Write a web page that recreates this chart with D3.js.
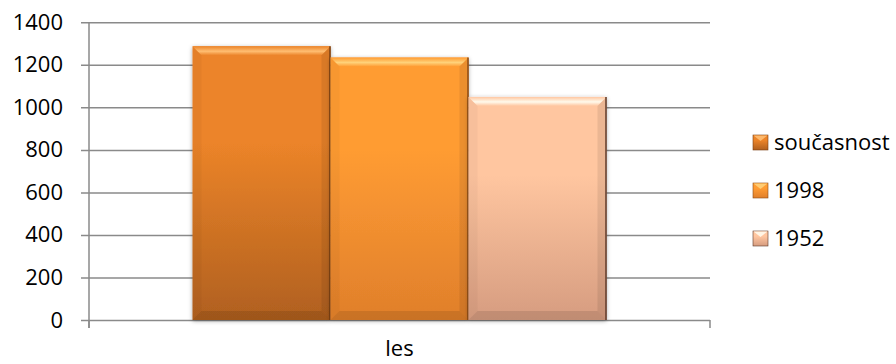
<!DOCTYPE html>
<html>
<head>
<meta charset="utf-8">
<title>les</title>
<script src="https://d3js.org/d3.v7.min.js"></script>
<style>
  body { margin: 0; background: #fff; }
  svg text { font-family: "Open Sans", sans-serif; font-size: 22px; fill: #000; }
</style>
</head>
<body>
<script>
// data
var categories = ["les"];
var seriesNames = ["současnost", "1998", "1952"];
var seriesValues = [1287, 1234, 1049];
var yTicks = [0, 200, 400, 600, 800, 1000, 1200, 1400];

// look of each series: top colour, bottom colour, bevel light, edge dark
var seriesStyle = [
  { top: "#ec8429", bottom: "#b0601f", light: "#ffbe72", dark: "#7a3f12" },
  { top: "#ff9c33", bottom: "#e07f2b", light: "#ffd27a", dark: "#8a4a16" },
  { top: "#ffc6a0", bottom: "#d69c80", light: "#fffaec", dark: "#5e3a2a" }
];

var width = 896, height = 364;
var plotLeft = 89, plotRight = 710, plotTop = 22.3, plotBottom = 320;

var svg = d3.select("body").append("svg")
  .attr("width", width)
  .attr("height", height);

var defs = svg.append("defs");

var shadow = defs.append("filter").attr("id", "shadow")
  .attr("x", "-10%").attr("y", "-10%").attr("width", "120%").attr("height", "120%");
shadow.append("feDropShadow")
  .attr("dx", 0).attr("dy", 1).attr("stdDeviation", 2)
  .attr("flood-color", "#000").attr("flood-opacity", 0.35);

seriesStyle.forEach(function(s, i) {
  var g = defs.append("linearGradient").attr("id", "body" + i)
    .attr("x1", 0).attr("y1", 0).attr("x2", 0).attr("y2", 1);
  g.append("stop").attr("offset", "0%").attr("stop-color", s.top);
  g.append("stop").attr("offset", "35%").attr("stop-color", s.top);
  g.append("stop").attr("offset", "100%").attr("stop-color", s.bottom);

  var t = defs.append("linearGradient").attr("id", "bevel" + i)
    .attr("x1", 0).attr("y1", 0).attr("x2", 0).attr("y2", 1);
  t.append("stop").attr("offset", "0%").attr("stop-color", s.top);
  t.append("stop").attr("offset", "55%").attr("stop-color", s.light);
  t.append("stop").attr("offset", "100%").attr("stop-color", s.top);
});

// scales
var x = d3.scaleBand().domain(categories).range([plotLeft, plotRight]);
var x1 = d3.scaleBand().domain(seriesNames).range([0, x.bandwidth()])
  .paddingInner(0).paddingOuter(0.75);
var y = d3.scaleLinear().domain([0, 1400]).range([plotBottom, plotTop]);

// gridlines
svg.append("g")
  .attr("transform", "translate(" + plotRight + ",0)")
  .call(d3.axisLeft(y).tickValues(yTicks).tickSize(plotRight - plotLeft + 8).tickFormat(""))
  .call(function(g) { g.select(".domain").remove(); })
  .selectAll("line")
  .attr("stroke", "#8a8a8a")
  .attr("stroke-width", 1.5);

// y axis labels
svg.append("g")
  .attr("transform", "translate(" + plotLeft + ",0)")
  .call(d3.axisLeft(y).tickValues(yTicks).tickSize(8).tickPadding(18).tickFormat(d3.format("d")))
  .call(function(g) { g.select(".domain").remove(); g.selectAll("line").remove(); })
  .selectAll("text")
  .attr("font-family", "Open Sans, sans-serif")
  .attr("font-size", 22)
  .attr("fill", "#000");

// axis lines
var axis = svg.append("g").attr("stroke", "#8a8a8a").attr("stroke-width", 1.5);
axis.append("line").attr("x1", plotLeft).attr("x2", plotLeft).attr("y1", plotTop).attr("y2", plotBottom + 8);
x.range().forEach(function(v) {
  axis.append("line").attr("x1", v).attr("x2", v).attr("y1", plotBottom).attr("y2", plotBottom + 8);
});

// bars
var bw = x1.bandwidth();
var bev = 9;
var bars = svg.append("g").selectAll("g.bar")
  .data(seriesNames.map(function(n, i) { return { name: n, value: seriesValues[i], i: i }; }))
  .enter().append("g")
  .attr("class", "bar")
  .attr("transform", function(d) {
    return "translate(" + (x(categories[0]) + x1(d.name)) + "," + y(d.value) + ")";
  });

bars.append("rect")
  .attr("width", bw)
  .attr("height", function(d) { return y(0) - y(d.value); })
  .attr("fill", function(d) { return "url(#body" + d.i + ")"; })
  .attr("filter", "url(#shadow)");

// top bevel
bars.append("path")
  .attr("d", "M0,0 L" + bw + ",0 L" + (bw - bev) + "," + bev + " L" + bev + "," + bev + " Z")
  .attr("fill", function(d) { return "url(#bevel" + d.i + ")"; });

// right bevel (shade)
bars.append("path")
  .attr("d", function(d) {
    var h = y(0) - y(d.value);
    return "M" + bw + ",0 L" + bw + "," + h + " L" + (bw - bev) + "," + (h - bev) + " L" + (bw - bev) + "," + bev + " Z";
  })
  .attr("fill", "#000").attr("opacity", 0.08);

// left bevel (shade)
bars.append("path")
  .attr("d", function(d) {
    var h = y(0) - y(d.value);
    return "M0,0 L" + bev + "," + bev + " L" + bev + "," + (h - bev) + " L0," + h + " Z";
  })
  .attr("fill", "#000").attr("opacity", 0.03);

// bottom bevel
bars.append("path")
  .attr("d", function(d) {
    var h = y(0) - y(d.value);
    return "M0," + h + " L" + bev + "," + (h - bev) + " L" + (bw - bev) + "," + (h - bev) + " L" + bw + "," + h + " Z";
  })
  .attr("fill", "#000").attr("opacity", 0.1);

// dark right edge
bars.append("line")
  .attr("x1", bw - 0.5).attr("x2", bw - 0.5)
  .attr("y1", 0)
  .attr("y2", function(d) { return y(0) - y(d.value); })
  .attr("stroke", function(d) { return seriesStyle[d.i].dark; })
  .attr("stroke-width", 1.5);

// category label
svg.append("text")
  .attr("x", x(categories[0]) + x.bandwidth() / 2)
  .attr("y", 356)
  .attr("text-anchor", "middle")
  .text(categories[0]);

// legend
var legend = svg.append("g").selectAll("g")
  .data(seriesNames)
  .enter().append("g")
  .attr("transform", function(d, i) { return "translate(753," + (135 + i * 48) + ")"; });

legend.append("rect")
  .attr("width", 15).attr("height", 15)
  .attr("fill", function(d, i) { return "url(#body" + i + ")"; })
  .attr("stroke", function(d, i) { return seriesStyle[i].dark; })
  .attr("stroke-width", 0.6);

legend.append("path")
  .attr("d", "M0.5,0.5 L14.5,0.5 L7.5,6 Z")
  .attr("fill", function(d, i) { return seriesStyle[i].light; })
  .attr("opacity", 0.9);

legend.append("text")
  .attr("x", 21)
  .attr("y", 7.5)
  .attr("dy", "0.35em")
  .text(function(d) { return d; });
</script>
</body>
</html>
